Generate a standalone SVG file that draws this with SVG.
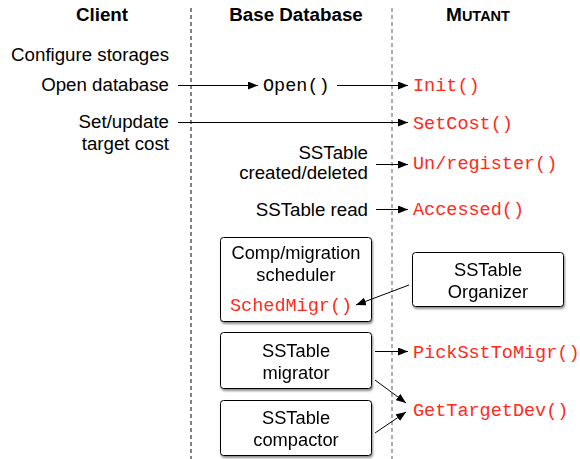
<svg xmlns="http://www.w3.org/2000/svg" width="580" height="459" viewBox="0 0 580 459">
  <style>
    .hd { font-family: "Liberation Sans", Arial, sans-serif; font-weight: bold; font-size: 18.8px; fill: #000; text-anchor: middle; }
    .lb { font-family: "Liberation Sans", Arial, sans-serif; font-size: 18.7px; fill: #000; }
    .bx { font-family: "Liberation Sans", Arial, sans-serif; font-size: 18.3px; fill: #000; text-anchor: middle; }
    .r { text-anchor: end; }
    .fn { font-family: "Liberation Mono", "Courier New", monospace; font-size: 18.5px; fill: #ff2a1a; }
    .fnk { font-family: "Liberation Mono", "Courier New", monospace; font-size: 18.5px; fill: #000; }
    .box { fill: #fff; stroke: #000; stroke-width: 1; }
    .conn { stroke: #000; stroke-width: 1; fill: none; marker-end: url(#ah); }
    .lane { stroke-width: 1.2; stroke-dasharray: 4 3; fill: none; }
  </style>
  <defs>
    <marker id="ah" viewBox="0 0 10 8" refX="10" refY="4" markerWidth="10" markerHeight="8" markerUnits="userSpaceOnUse" orient="auto">
      <path d="M0,0 L10,4 L0,8 Z" fill="#000"/>
    </marker>
    <filter id="sh" x="-10%" y="-10%" width="125%" height="130%">
      <feGaussianBlur in="SourceAlpha" stdDeviation="1.2"/>
      <feOffset dx="1" dy="1.5" result="b"/>
      <feComponentTransfer><feFuncA type="linear" slope="0.45"/></feComponentTransfer>
      <feMerge><feMergeNode/><feMergeNode in="SourceGraphic"/></feMerge>
    </filter>
  </defs>

  <!-- swimlane separators -->
  <g id="lanes">
    <line class="lane" x1="191" y1="8" x2="191" y2="459" stroke="#333"/>
    <line class="lane" x1="392" y1="8" x2="392" y2="459" stroke="#777"/>
  </g>

  <!-- column headings -->
  <g id="headings">
    <text class="hd" x="102" y="21">Client</text>
    <text class="hd" x="296" y="21">Base Database</text>
    <text class="hd" x="478" y="21"><tspan font-size="19px">M</tspan><tspan font-size="14.5px">UTANT</tspan></text>
  </g>

  <!-- client actions -->
  <g id="client">
    <text class="lb r" x="169" y="61">Configure storages</text>
    <text class="lb r" x="169" y="91">Open database</text>
    <text class="lb r" x="169" y="128">Set/update</text>
    <text class="lb r" x="169" y="150">target cost</text>
  </g>

  <!-- base database events -->
  <g id="db-open"><text class="fnk" x="263" y="91">Open()</text></g>
  <g id="db-sst-change">
    <text class="lb r" x="368" y="159">SSTable</text>
    <text class="lb r" x="368" y="179">created/deleted</text>
  </g>
  <g id="db-sst-read"><text class="lb r" x="368" y="216">SSTable read</text></g>

  <g id="scheduler" filter="url(#sh)">
    <rect class="box" x="220.5" y="237.5" width="151" height="84" rx="3"/>
    <text class="bx" x="296" y="259">Comp/migration</text>
    <text class="bx" x="296" y="281">scheduler</text>
    <text class="fn" x="230" y="311">SchedMigr()</text>
  </g>
  <g id="migrator" filter="url(#sh)">
    <rect class="box" x="220.5" y="332.5" width="151" height="56" rx="3"/>
    <text class="bx" x="296" y="357">SSTable</text>
    <text class="bx" x="296" y="379">migrator</text>
  </g>
  <g id="compactor" filter="url(#sh)">
    <rect class="box" x="220.5" y="400.5" width="151" height="55" rx="3"/>
    <text class="bx" x="296" y="424">SSTable</text>
    <text class="bx" x="296" y="446">compactor</text>
  </g>

  <!-- mutant API -->
  <g id="m-init"><text class="fn" x="413" y="91">Init()</text></g>
  <g id="m-setcost"><text class="fn" x="413" y="129">SetCost()</text></g>
  <g id="m-register"><text class="fn" x="413" y="169">Un/register()</text></g>
  <g id="m-accessed"><text class="fn" x="413" y="215">Accessed()</text></g>
  <g id="organizer" filter="url(#sh)">
    <rect class="box" x="412.5" y="252.5" width="151" height="54" rx="3"/>
    <text class="bx" x="488" y="276">SSTable</text>
    <text class="bx" x="488" y="298">Organizer</text>
  </g>
  <g id="m-pick"><text class="fn" x="413" y="358">PickSstToMigr()</text></g>
  <g id="m-target"><text class="fn" x="413" y="416">GetTargetDev()</text></g>

  <!-- connectors -->
  <g id="connectors">
    <line class="conn" x1="178" y1="85.5" x2="258" y2="85.5"/>
    <line class="conn" x1="337" y1="85.5" x2="408" y2="85.5"/>
    <line class="conn" x1="178" y1="122.5" x2="408" y2="122.5"/>
    <line class="conn" x1="376" y1="164.5" x2="408" y2="164.5"/>
    <line class="conn" x1="376" y1="209.5" x2="408" y2="209.5"/>
    <line class="conn" x1="409" y1="285" x2="356" y2="305"/>
    <line class="conn" x1="375" y1="351.5" x2="408" y2="351.5"/>
    <line class="conn" x1="375" y1="380" x2="406" y2="403"/>
    <line class="conn" x1="375" y1="433" x2="406" y2="412"/>
  </g>
</svg>
